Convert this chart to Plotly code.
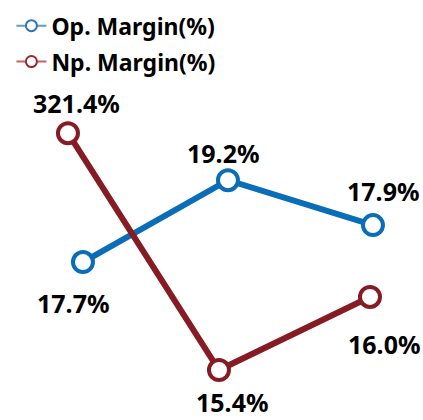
import plotly.graph_objects as go

# ---- data ----
periods = ["P1", "P2", "P3"]
op_margin = [17.7, 19.2, 17.9]          # label values (%)
np_margin = [321.4, 15.4, 16.0]         # label values (%)
# schematic plotted levels (share of chart height, 0-100)
op_level = [37.6, 57.1, 46.4]
np_level = [68.3, 11.9, 29.3]

BLUE = "#0A6DB8"
RED = "#861B24"
FONT = "Noto Sans"

fig = go.Figure()

fig.add_trace(go.Scatter(
    x=periods, y=np_level, mode="lines+markers", xaxis="x2", yaxis="y2",
    line=dict(color=RED, width=6),
    marker=dict(symbol="circle", size=20, color="white", line=dict(color=RED, width=4)),
    showlegend=False, hoverinfo="skip"))
fig.add_trace(go.Scatter(
    x=periods, y=op_level, mode="lines+markers",
    line=dict(color=BLUE, width=6),
    marker=dict(symbol="circle", size=20, color="white", line=dict(color=BLUE, width=4)),
    showlegend=False, hoverinfo="skip"))

# legend entries
fig.add_trace(go.Scatter(
    x=[None], y=[None], mode="lines+markers", name="Op. Margin(%)", legendgroup="a",
    line=dict(color="#5B9BD5", width=2),
    marker=dict(symbol="circle", size=11, color="white", line=dict(color="#2E75B6", width=2))))
fig.add_trace(go.Scatter(
    x=[None], y=[None], mode="lines+markers", name="Np. Margin(%)", legendgroup="b",
    line=dict(color="#C9605C", width=2),
    marker=dict(symbol="circle", size=11, color="white", line=dict(color="#9B2A30", width=2))))

annotations = []
op_shift = [(-10, -41), (-5, 27), (10, 34)]
np_shift = [(9, 30), (13, -32), (14, -47)]
for i, p in enumerate(periods):
    dx, dy = op_shift[i]
    annotations.append(dict(x=p, y=op_level[i], xref="x", yref="y", text=f"{op_margin[i]:.1f}%",
                            showarrow=False, xshift=dx, yshift=dy,
                            font=dict(family=FONT, size=25, color="black", weight="bold")))
    dx, dy = np_shift[i]
    annotations.append(dict(x=p, y=np_level[i], xref="x2", yref="y2", text=f"{np_margin[i]:.1f}%",
                            showarrow=False, xshift=dx, yshift=dy,
                            font=dict(family=FONT, size=25, color="black", weight="bold")))

fig.update_layout(
    width=423, height=420,
    margin=dict(l=0, r=0, t=0, b=0),
    paper_bgcolor="white", plot_bgcolor="white",
    xaxis=dict(visible=False, range=[-0.572, 2.345], domain=[0, 1]),
    xaxis2=dict(visible=False, range=[-0.450, 2.351], domain=[0, 1], overlaying="x"),
    yaxis=dict(visible=False, range=[0, 100], domain=[0, 1]),
    yaxis2=dict(visible=False, range=[0, 100], domain=[0, 1], overlaying="y"),
    legend=dict(x=0.027, y=0.99, xanchor="left", yanchor="top", traceorder="grouped",
                tracegroupgap=3, bgcolor="rgba(0,0,0,0)",
                font=dict(family=FONT, size=23, color="black", weight="bold"),
                itemwidth=30),
    annotations=annotations,
    showlegend=True,
)

fig.write_html("out.html", config={"displayModeBar": False},
               post_script="document.body.style.margin='0px';")
